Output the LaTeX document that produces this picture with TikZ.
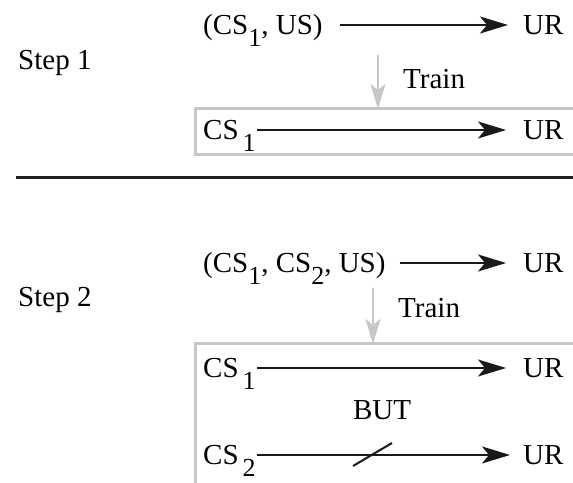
\documentclass[tikz,border=0pt]{standalone}
\usepackage{fontspec}
\setmainfont{LiberationSerif}[Extension=.ttf, UprightFont=*-Regular, BoldFont=*-Bold]
\usetikzlibrary{arrows.meta}
% lowered subscript digit, close to full size
\newcommand{\lowsub}[1]{\raisebox{-12pt}{\fontsize{26}{26}\selectfont #1}}
\begin{document}
\begin{tikzpicture}[x=1pt,y=1pt,
  txt/.style={inner sep=0pt, anchor=base west, font=\fontsize{29}{34}\selectfont},
  blackarrow/.style={draw=black!90, line width=2.2pt,
    -{Stealth[length=28pt,width=17pt,inset=7pt]}},
  grayarrow/.style={draw=black!22, line width=2.2pt,
    -{Stealth[length=25pt,width=15pt,inset=6pt]}},
  frame/.style={draw=black!22, line width=3pt},
  divider/.style={draw=black!88, line width=3pt}]
\useasboundingbox (0,0) rectangle (573,482);

% ---------- step 1 ----------
\node[txt] (step1) at (18,412) {Step 1};
\node[txt] (a1) at (203,447) {(CS\lowsub{1}, US)};
\node[txt] (ur1) at (523,447) {UR};
\draw[blackarrow] ([shift={(17pt,10pt)}]a1.base east) -- ([shift={(-15pt,10pt)}]ur1.base west);

\coordinate (g1s) at (378,427);
\coordinate (g1e) at (378,373);
\draw[grayarrow] (g1s) -- (g1e);
\node[txt] (train1) at (403,393) {Train};

\draw[frame] (576,373) -- (195,373) -- (195,327) -- (576,327);
\node[txt] (b1) at (203,342) {CS\kern4pt\lowsub{1}};
\node[txt] (ur2) at (523,342) {UR};
\draw[blackarrow] ([shift={(1pt,10pt)}]b1.base east) -- ([shift={(-17pt,10pt)}]ur2.base west);

% ---------- divider ----------
\coordinate (dl) at (16,304);
\coordinate (dr) at (576,304);
\draw[divider] (dl) -- (dr);

% ---------- step 2 ----------
\node[txt] (step2) at (18,175) {Step 2};
\node[txt] (c1) at (203,209) {(CS\lowsub{1}, CS\lowsub{2}, US)};
\node[txt] (ur3) at (523,209) {UR};
\draw[blackarrow] ([shift={(14pt,10pt)}]c1.base east) -- ([shift={(-17pt,10pt)}]ur3.base west);

\coordinate (g2s) at (373,194);
\coordinate (g2e) at (373,138);
\draw[grayarrow] (g2s) -- (g2e);
\node[txt] (train2) at (398,164) {Train};

\draw[frame] (576,138) -- (195,138) -- (195,-3);
\node[txt] (d1) at (203,104) {CS\kern4pt\lowsub{1}};
\node[txt] (ur4) at (523,104) {UR};
\draw[blackarrow] ([shift={(1pt,10pt)}]d1.base east) -- ([shift={(-17pt,10pt)}]ur4.base west);

\node[txt, anchor=base] (but) at (382,62) {BUT};

\node[txt] (e1) at (203,17) {CS\kern4pt\lowsub{2}};
\node[txt] (ur5) at (523,17) {UR};
\draw[blackarrow] ([shift={(1pt,10pt)}]e1.base east) -- ([shift={(-13pt,10pt)}]ur5.base west);
\coordinate (s1) at (353,16);
\coordinate (s2) at (392,39);
\draw[black!90, line width=2pt] (s1) -- (s2);
\end{tikzpicture}
\end{document}
